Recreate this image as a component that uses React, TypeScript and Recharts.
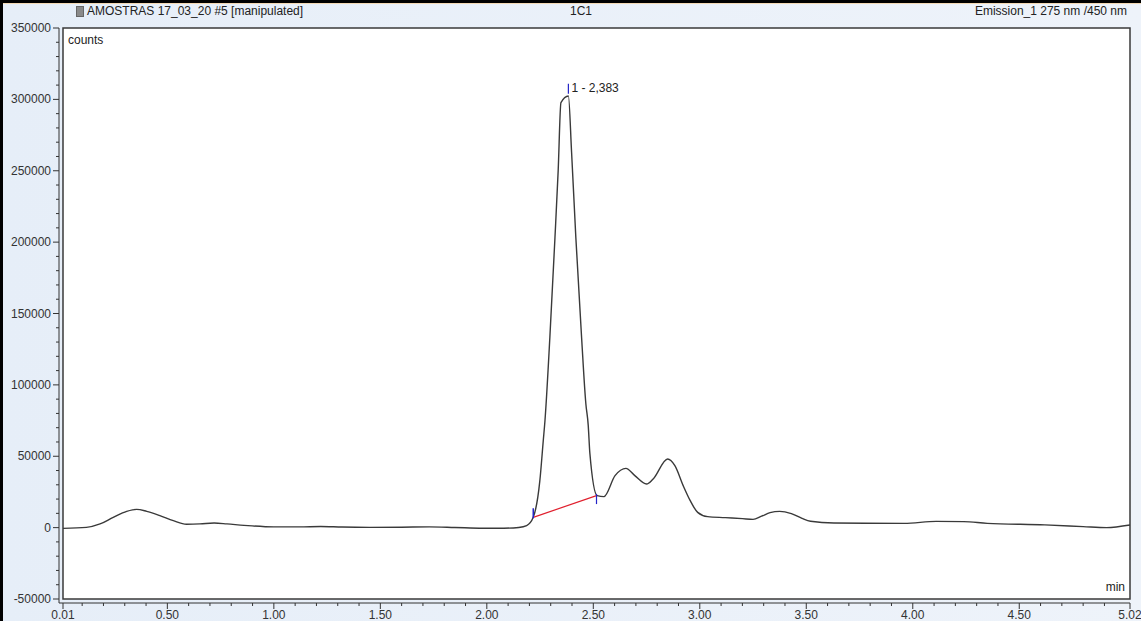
import { LineChart, Line, XAxis, YAxis, ReferenceArea, ReferenceLine, ReferenceDot } from "recharts";

// retention time (min) and detector signal (counts)
const retentionTimes = [
  0.01, 0.12, 0.184, 0.246, 0.309, 0.356, 0.403, 0.465, 0.528, 0.59, 0.653, 0.72, 0.78, 0.86,
  1.0, 1.12, 1.22, 1.32, 1.45, 1.6, 1.73, 1.85, 1.98, 2.08, 2.15, 2.187, 2.218, 2.249, 2.265,
  2.273, 2.296, 2.32, 2.335, 2.348, 2.383, 2.398, 2.418, 2.445, 2.465, 2.476, 2.484,
  2.518, 2.55, 2.602, 2.653, 2.695, 2.75, 2.781, 2.849, 2.883, 2.922, 2.955, 2.99, 3.037,
  3.12, 3.2, 3.25, 3.29, 3.33, 3.375, 3.43, 3.48, 3.52, 3.63, 3.96, 4.11, 4.24, 4.35, 4.62,
  4.8, 4.91, 5.02,
];
const countValues = [
  -500, 200, 2600, 7200, 11400, 12800, 11400, 8400, 4900, 2400, 2600, 3200, 2600, 1600,
  500, 500, 800, 400, 200, 300, 500, 100, -400, -400, 100, 1400, 7200, 32900, 60900,
  74900, 133200, 203200, 249900, 297700, 302400, 263000, 203200, 133200, 86800, 72000, 51800,
  22400, 21700, 36400, 41500, 36400, 30600, 34100, 48100, 43400, 29400, 18900, 10700, 7700,
  7000, 6300, 5800, 8000, 10500, 11400, 9800, 6500, 4500, 3200, 3000, 4400, 4200, 3000, 1900,
  700, 0, 1800,
];

const xMajorTicks = [0.01, 0.5, 1, 1.5, 2, 2.5, 3, 3.5, 4, 4.5, 5.02];
const xTickLabels = ["0.01", "0.50", "1.00", "1.50", "2.00", "2.50", "3.00", "3.50", "4.00", "4.50", "5.02"];
const xMinorStep = 0.1;
const yMajorTicks = [-50000, 0, 50000, 100000, 150000, 200000, 250000, 300000, 350000];
const yMinorStep = 10000;

const peakLabel = "1 - 2,383";
const peakApex = { t: 2.383, top: 311000, bottom: 304000, labelAt: 308000 };
const peakStart = { t: 2.218, c: 7200, lo: 6500, hi: 13500 };
const peakEnd = { t: 2.515, c: 22400, lo: 16500, hi: 23500 };

const data = retentionTimes.map((t, i) => ({ t, c: countValues[i] }));
const xMinor = Array.from({ length: 49 }, (_, i) => Math.round((i + 1) * xMinorStep * 10) / 10).filter(
  (v) => !xMajorTicks.some((m) => Math.abs(m - v) < 0.001)
);
const xTicks = [...xMajorTicks, ...xMinor].sort((a, b) => a - b);
const yTicks: number[] = [];
for (let v = yMajorTicks[0]; v <= yMajorTicks[yMajorTicks.length - 1]; v += yMinorStep) yTicks.push(v);

const font = '"Liberation Sans", Arial, sans-serif';
const ink = "#333";

function XTick(props: any) {
  const { x, y, payload } = props;
  const idx = xMajorTicks.findIndex((m) => Math.abs(m - payload.value) < 0.001);
  const major = idx >= 0;
  return (
    <g>
      <line x1={x} x2={x} y1={y} y2={y + (major ? 6 : 3)} stroke={ink} />
      {major && (
        <text x={x} y={y + 16} textAnchor="middle" fontSize={12} fontFamily={font} fill={ink}>
          {xTickLabels[idx]}
        </text>
      )}
    </g>
  );
}

function YTick(props: any) {
  const { x, y, payload } = props;
  const major = payload.value % 50000 === 0;
  return (
    <g>
      <line x1={x - (major ? 6 : 3)} x2={x} y1={y} y2={y} stroke={ink} />
      {major && (
        <text x={x - 8} y={y + 4} textAnchor="end" fontSize={12} fontFamily={font} fill={ink}>
          {payload.value}
        </text>
      )}
    </g>
  );
}

export default function App() {
  return (
    <div
      style={{
        position: "relative",
        width: 1141,
        height: 621,
        background: "linear-gradient(90deg, #e6eef8 0%, #eef3fa 100%)",
        fontFamily: font,
        overflow: "hidden",
      }}
    >
      <style>{"body{margin:0}"}</style>
      <div style={{ position: "absolute", left: 0, top: 0, width: 1141, height: 3, background: "#000" }} />
      <div style={{ position: "absolute", left: 0, top: 3, width: 1141, height: 1, background: "#f3d9b5" }} />
      <div style={{ position: "absolute", left: 0, top: 0, width: 3, height: 621, background: "#000" }} />

      <div style={{ position: "absolute", left: 76, top: 6, width: 8, height: 11, background: "#8a8a8a", border: "1px solid #666", boxSizing: "border-box" }} />
      <div style={{ position: "absolute", left: 87, top: 4, fontSize: 12, color: "#222" }}>AMOSTRAS 17_03_20 #5 [manipulated]</div>
      <div style={{ position: "absolute", left: 570, top: 4, fontSize: 12, color: "#222" }}>1C1</div>
      <div style={{ position: "absolute", right: 14, top: 4, fontSize: 12, color: "#222" }}>Emission_1 275 nm /450 nm</div>

      <div style={{ position: "absolute", left: 0, top: 0 }}>
        <LineChart width={1141} height={621} data={data} margin={{ top: 28, right: 11, left: 0, bottom: 0 }}>
          <ReferenceArea
            x1={0.01}
            x2={5.02}
            y1={-50000}
            y2={350000}
            fill="#ffffff"
            fillOpacity={1}
            stroke="#3a3a3a"
            strokeWidth={1.5}
          />
          <XAxis
            type="number"
            dataKey="t"
            domain={[0.01, 5.02]}
            ticks={xTicks}
            interval={0}
            height={18}
            padding={{ left: 4, right: 0 }}
            tickSize={0}
            tickMargin={0}
            tickLine={false}
            axisLine={{ stroke: ink }}
            tick={<XTick />}
            allowDataOverflow
          />
          <YAxis
            type="number"
            domain={[-50000, 350000]}
            ticks={yTicks}
            interval={0}
            width={59}
            padding={{ top: 0, bottom: 4 }}
            tickSize={0}
            tickMargin={0}
            tickLine={false}
            axisLine={{ stroke: ink }}
            tick={<YTick />}
            allowDataOverflow
          />
          <Line
            type="monotone"
            dataKey="c"
            stroke="#3a3a3a"
            strokeWidth={1.4}
            dot={false}
            isAnimationActive={false}
          />
          <ReferenceLine
            segment={[
              { x: peakStart.t, y: peakStart.c },
              { x: peakEnd.t, y: peakEnd.c },
            ]}
            stroke="#e0202e"
            strokeWidth={1.2}
          />
          <ReferenceLine
            segment={[
              { x: peakStart.t, y: peakStart.lo },
              { x: peakStart.t, y: peakStart.hi },
            ]}
            stroke="#2424c8"
            strokeWidth={1.5}
          />
          <ReferenceLine
            segment={[
              { x: peakEnd.t, y: peakEnd.lo },
              { x: peakEnd.t, y: peakEnd.hi },
            ]}
            stroke="#2424c8"
            strokeWidth={1.2}
          />
          <ReferenceLine
            segment={[
              { x: peakApex.t, y: peakApex.bottom },
              { x: peakApex.t, y: peakApex.top },
            ]}
            stroke="#2424c8"
            strokeWidth={1.2}
          />
          <ReferenceDot
            x={peakApex.t}
            y={peakApex.labelAt}
            r={1}
            fill="none"
            stroke="none"
            label={{ value: peakLabel, position: "right", offset: 2, fontSize: 12, fill: "#222", fontFamily: font }}
          />
        </LineChart>
      </div>

      <div style={{ position: "absolute", left: 68, top: 33, fontSize: 12, color: "#222" }}>counts</div>
      <div style={{ position: "absolute", right: 16, top: 580, fontSize: 12, color: "#222" }}>min</div>
    </div>
  );
}
